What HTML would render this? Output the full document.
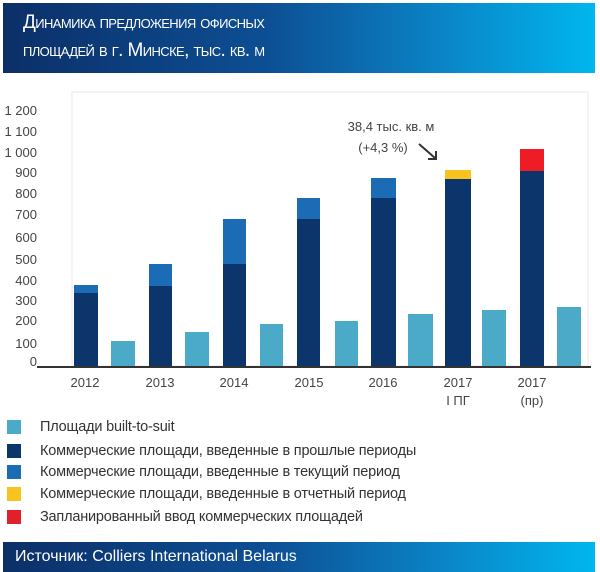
<!DOCTYPE html>
<html><head><meta charset="utf-8"><style>
body{margin:0;width:600px;height:572px;background:#fff;position:relative;overflow:hidden;font-family:"Liberation Sans","DejaVu Sans",sans-serif;}
.hdr{position:absolute;left:3px;top:3px;width:592px;height:70px;background:linear-gradient(90deg,#0c2f68 0%,#0d4f94 45%,#0a86c8 75%,#00b6ee 100%);}
.hdr div{position:absolute;left:20px;color:#fff;font-variant:small-caps;font-size:19px;letter-spacing:-0.6px;}
.ftr{position:absolute;left:3px;top:542px;width:592px;height:30px;background:linear-gradient(90deg,#0c2f68 0%,#0d4f94 45%,#0a86c8 75%,#00b6ee 100%);color:#fff;font-size:16px;line-height:30px;padding-left:12px;box-sizing:border-box;}
.lg{position:absolute;left:7px;width:14px;height:14px;}
.lt{position:absolute;left:40px;font-size:14.5px;color:#333;line-height:16px;letter-spacing:-0.2px;}
</style></head><body>
<div class="hdr"><div style="top:9px">Динамика предложения офисных</div><div style="top:37px">площадей в г. Минске, тыс. кв. м</div></div>
<svg width="600" height="572" style="position:absolute;left:0;top:0">
<rect x="72" y="92" width="516" height="274" fill="none" stroke="#f0e6ea" stroke-width="1"/>
<g font-size="13" fill="#444" text-anchor="end" font-family="Liberation Sans,sans-serif">
<text x="37" y="115">1 200</text><text x="37" y="136">1 100</text><text x="37" y="157">1 000</text>
<text x="37" y="177">900</text><text x="37" y="198">800</text><text x="37" y="219">700</text>
<text x="37" y="242">600</text><text x="37" y="264">500</text><text x="37" y="285">400</text>
<text x="37" y="305">300</text><text x="37" y="325">200</text><text x="37" y="348">100</text>
<text x="37" y="366">0</text></g>
<g>
<rect x="74" y="285" width="24" height="8" fill="#1c6bb5"/><rect x="74" y="293" width="24" height="74" fill="#0b356b"/>
<rect x="111" y="341" width="24" height="26" fill="#4aaac8"/>
<rect x="149" y="264" width="23" height="22" fill="#1c6bb5"/><rect x="149" y="286" width="23" height="81" fill="#0b356b"/>
<rect x="185" y="332" width="24" height="35" fill="#4aaac8"/>
<rect x="223" y="219" width="23" height="45" fill="#1c6bb5"/><rect x="223" y="264" width="23" height="103" fill="#0b356b"/>
<rect x="260" y="324" width="23" height="43" fill="#4aaac8"/>
<rect x="297" y="198" width="23" height="21" fill="#1c6bb5"/><rect x="297" y="219" width="23" height="148" fill="#0b356b"/>
<rect x="335" y="321" width="23" height="46" fill="#4aaac8"/>
<rect x="371" y="178" width="25" height="20" fill="#1c6bb5"/><rect x="371" y="198" width="25" height="169" fill="#0b356b"/>
<rect x="408" y="314" width="25" height="53" fill="#4aaac8"/>
<rect x="445" y="170" width="26" height="9" fill="#f8c31f"/><rect x="445" y="179" width="26" height="188" fill="#0b356b"/>
<rect x="482" y="310" width="24" height="57" fill="#4aaac8"/>
<rect x="520" y="149" width="24" height="22" fill="#ee1c24"/><rect x="520" y="171" width="24" height="196" fill="#0b356b"/>
<rect x="557" y="307" width="24" height="60" fill="#4aaac8"/>
</g>
<line x1="37" y1="367" x2="591" y2="367" stroke="#333" stroke-width="2"/>
<g font-size="13" fill="#444" text-anchor="middle" font-family="Liberation Sans,sans-serif">
<text x="85" y="387">2012</text><text x="160" y="387">2013</text><text x="234" y="387">2014</text>
<text x="309" y="387">2015</text><text x="383" y="387">2016</text><text x="458" y="387">2017</text>
<text x="532" y="387">2017</text><text x="458" y="405">I ПГ</text><text x="532" y="405">(пр)</text>
<text x="391" y="131">38,4 тыс. кв. м</text><text x="383" y="152">(+4,3 %)</text></g>
<line x1="419" y1="144" x2="435" y2="158" stroke="#333" stroke-width="2"/>
<polyline points="428,159 436,159 436,151" fill="none" stroke="#333" stroke-width="2"/>
</svg>
<div class="lg" style="top:420px;background:#4aaac8"></div><div class="lt" style="top:419px">Площади built-to-suit</div>
<div class="lg" style="top:444px;background:#0b356b"></div><div class="lt" style="top:443px">Коммерческие площади, введенные в прошлые периоды</div>
<div class="lg" style="top:465px;background:#1c6bb5"></div><div class="lt" style="top:464px">Коммерческие площади, введенные в текущий период</div>
<div class="lg" style="top:487px;background:#f8c31f"></div><div class="lt" style="top:486px">Коммерческие площади, введенные в отчетный период</div>
<div class="lg" style="top:510px;background:#e0202a"></div><div class="lt" style="top:509px">Запланированный ввод коммерческих площадей</div>
<div class="ftr">Источник: Colliers International Belarus</div>
</body></html>
